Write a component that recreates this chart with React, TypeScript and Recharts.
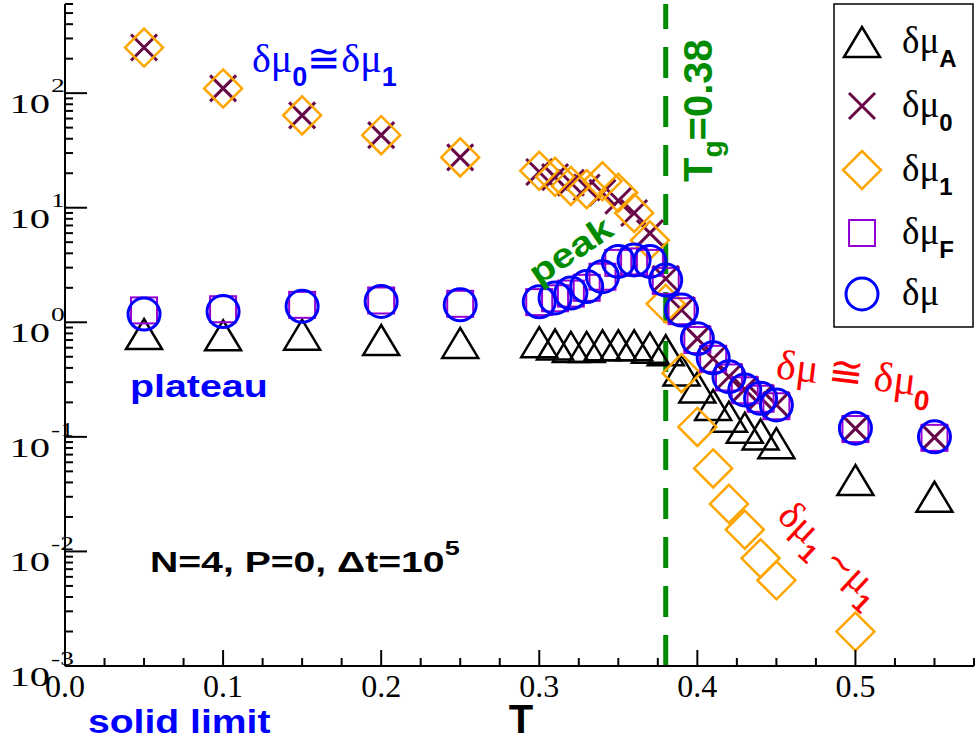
import React from 'react';
import { ScatterChart, Scatter, XAxis, YAxis, ReferenceLine } from 'recharts';

// temperatures shared by all sets
const T = [0.05, 0.10, 0.15, 0.20, 0.25, 0.30, 0.31, 0.32, 0.33, 0.34, 0.35, 0.36, 0.37, 0.38, 0.39, 0.40, 0.41, 0.42, 0.43, 0.44, 0.45, 0.50, 0.55];

const dMuA = [0.79, 0.77, 0.78, 0.70, 0.66, 0.67, 0.64, 0.61, 0.61, 0.63, 0.63, 0.63, 0.60, 0.57, 0.38, 0.27, 0.19, 0.15, 0.12, 0.105, 0.088, 0.042, 0.030];
const dMu0 = [250, 110, 64, 43, 27.5, 20.5, 18.5, 16.5, 15, 13.5, 11.5, 9, 6, 2.4, 1.28, 0.72, 0.48, 0.335, 0.26, 0.22, 0.19, 0.118, 0.099];
const dMu1 = [250, 110, 64, 43, 27.5, 21, 18.6, 15.5, 14.5, 17, 13.5, 9, 5.2, 1.45, 0.36, 0.122, 0.053, 0.026, 0.0155, 0.0087, 0.0056, 0.002, null];
const dMuF = [1.27, 1.30, 1.42, 1.55, 1.45, 1.5, 1.62, 1.78, 2.0, 2.5, 3.3, 3.4, 3.3, 2.3, 1.25, 0.70, 0.48, 0.33, 0.255, 0.215, 0.185, 0.117, 0.098];
const dMu = [1.18, 1.24, 1.38, 1.52, 1.42, 1.51, 1.63, 1.8, 2.05, 2.5, 3.4, 3.5, 3.4, 2.34, 1.28, 0.72, 0.49, 0.335, 0.257, 0.217, 0.19, 0.119, 0.10];

const T_G = 0.38;

const X_TICKS = Array.from({ length: 24 }, (_, k) => k / 40);
const Y_TICKS: number[] = [];
for (let e = -3; e <= 2; e++) {
  for (let m = 1; m <= 9; m++) {
    const v = m * Math.pow(10, e);
    if (v <= 600) Y_TICKS.push(v);
  }
}

const toPoints = (vals: (number | null)[]) =>
  T.map((t, i) => ({ t, v: vals[i] })).filter((p) => p.v != null);

const BLACK = '#000000';
const MAROON = '#670748';
const ORANGE = '#ffa500';
const VIOLET = '#9400d3';
const BLUE = '#0000ff';
const GREEN = '#008b00';
const RED = '#ff0000';

const SERIF = "'Liberation Serif', 'DejaVu Serif', serif";
const SANS = "'Liberation Sans', Arial, sans-serif";

const Triangle = ({ cx, cy }: any) => (
  <polygon points={`${cx},${cy - 15} ${cx - 18},${cy + 15} ${cx + 18},${cy + 15}`} fill="none" stroke={BLACK} strokeWidth={2.5} />
);
const Cross = ({ cx, cy }: any) => (
  <path d={`M${cx - 13},${cy - 13}L${cx + 13},${cy + 13}M${cx - 13},${cy + 13}L${cx + 13},${cy - 13}`} stroke={MAROON} strokeWidth={3} />
);
const Diamond = ({ cx, cy }: any) => (
  <polygon points={`${cx},${cy - 19} ${cx + 19},${cy} ${cx},${cy + 19} ${cx - 19},${cy}`} fill="none" stroke={ORANGE} strokeWidth={2.5} />
);
const Square = ({ cx, cy }: any) => (
  <rect x={cx - 13} y={cy - 13} width={26} height={26} fill="none" stroke={VIOLET} strokeWidth={2} />
);
const Circle = ({ cx, cy }: any) => (
  <circle cx={cx} cy={cy} r={16} fill="none" stroke={BLUE} strokeWidth={3} />
);

const XTick = ({ x, y, payload }: any) => {
  const v = payload.value;
  const major = Math.abs(v * 10 - Math.round(v * 10)) < 1e-6;
  return (
    <g>
      <line x1={x} y1={y} x2={x} y2={y - (major ? 16 : 8)} stroke={BLACK} strokeWidth={2} />
      {major && (
        <text x={x} y={y + 31} textAnchor="middle" fontFamily={SERIF} fontSize={32} fill={BLACK}>
          {v.toFixed(1)}
        </text>
      )}
    </g>
  );
};

const YTick = ({ x, y, payload }: any) => {
  const v = payload.value;
  const e = Math.log10(v);
  const major = Math.abs(e - Math.round(e)) < 1e-6;
  return (
    <g>
      <line x1={x} y1={y} x2={x + (major ? 22 : 8)} y2={y} stroke={BLACK} strokeWidth={2} />
      {major && (
        <g>
          <g transform={`translate(${x - 15},${y + 20}) scale(1.45,1)`}>
            <text textAnchor="end" fontFamily={SERIF} fontSize={28} fill={BLACK}>10</text>
          </g>
          <g transform={`translate(${x - 14},${y - 1}) scale(1.45,1)`}>
            <text textAnchor="start" fontFamily={SERIF} fontSize={19} fill={BLACK}>{Math.round(e)}</text>
          </g>
        </g>
      )}
    </g>
  );
};

const legendRows = [
  { sub: 'A', Mark: Triangle, y: 42 },
  { sub: '0', Mark: Cross, y: 106 },
  { sub: '1', Mark: Diamond, y: 170 },
  { sub: 'F', Mark: Square, y: 233 },
  { sub: '', Mark: Circle, y: 294 },
];

const Annotations = () => (
  <svg width={978} height={743} style={{ position: 'absolute', left: 0, top: 0, pointerEvents: 'none' }}>
    {/* legend */}
    <rect x={834} y={4} width={139} height={323} fill="#fff" stroke={BLACK} strokeWidth={1.5} />
    {legendRows.map(({ sub, Mark, y }) => (
      <g key={sub || 'mu'}>
        <Mark cx={862} cy={y} />
        <text x={902} y={y + 11} fontFamily={SERIF} fontSize={37} fill={BLACK}>
          δμ
          {sub && (
            <tspan dy={14} fontFamily={SANS} fontWeight="bold" fontSize={24}>{sub}</tspan>
          )}
        </text>
      </g>
    ))}

    {/* blue labels */}
    <text x={252} y={72} fontFamily={SERIF} fontSize={40} fill={BLUE}>
      <tspan>δμ</tspan>
      <tspan dy={14} fontFamily={SANS} fontWeight="bold" fontSize={27}>0</tspan>
      <tspan dy={-14}>≅δμ</tspan>
      <tspan dy={14} fontFamily={SANS} fontWeight="bold" fontSize={27}>1</tspan>
    </text>
    <g transform="translate(130,397) scale(1.23,1)">
      <text fontFamily={SANS} fontWeight="bold" fontSize={32} fill={BLUE}>plateau</text>
    </g>
    <g transform="translate(88,733) scale(1.15,1)">
      <text fontFamily={SANS} fontWeight="bold" fontSize={34} fill={BLUE}>solid limit</text>
    </g>

    {/* parameters */}
    <g transform="translate(150,572) scale(1.35,1)">
      <text fontFamily={SANS} fontWeight="bold" fontSize={29} fill={BLACK}>
        N=4, P=0, Δt=10<tspan dy={-17} fontSize={20}>5</tspan>
      </text>
    </g>

    {/* axis title */}
    <text x={521} y={733} textAnchor="middle" fontFamily={SANS} fontWeight="bold" fontSize={40} fill={BLACK}>T</text>

    {/* green labels */}
    <g transform="translate(577,260) rotate(-34) scale(1.2,1)">
      <text textAnchor="middle" fontFamily={SANS} fontWeight="bold" fontSize={34} fill={GREEN}>peak</text>
    </g>
    <g transform="translate(712,182) rotate(-90)">
      <text fontFamily={SANS} fontWeight="bold" fontSize={40} fill={GREEN}>
        T<tspan dy={10} fontSize={28}>g</tspan><tspan dy={-10}>=0.38</tspan>
      </text>
    </g>

    {/* red labels */}
    <g transform="translate(775,378) rotate(7)">
      <text fontFamily={SERIF} fontSize={42} fill={RED}>
        <tspan>δμ ≅ δμ</tspan>
        <tspan dy={14} fontFamily={SANS} fontWeight="bold" fontSize={28}>0</tspan>
      </text>
    </g>
    <g transform="translate(776,518) rotate(43)">
      <text fontFamily={SERIF} fontSize={40} fill={RED}>
        <tspan>δμ</tspan>
        <tspan dy={13} fontFamily={SANS} fontWeight="bold" fontSize={26}>1</tspan>
        <tspan dy={-13} fontFamily={SANS} fontSize={34}> ∼</tspan>
        <tspan>μ</tspan>
        <tspan dy={13} fontFamily={SANS} fontWeight="bold" fontSize={26}>1</tspan>
      </text>
    </g>
  </svg>
);

export default function App() {
  return (
    <div style={{ position: 'absolute', left: 0, top: 0, width: 978, height: 743, background: '#fff' }}>
      <ScatterChart width={978} height={743} margin={{ top: 4, right: 4, bottom: 0, left: 0 }}>
        <XAxis
          type="number"
          dataKey="t"
          domain={[0, 0.575]}
          ticks={X_TICKS}
          interval={0}
          tick={<XTick />}
          tickLine={false}
          tickSize={0}
          tickMargin={0}
          height={77}
          axisLine={{ stroke: BLACK, strokeWidth: 2 }}
          allowDataOverflow
        />
        <YAxis
          type="number"
          dataKey="v"
          scale="log"
          domain={[0.001, 600]}
          ticks={Y_TICKS}
          interval={0}
          tick={<YTick />}
          tickLine={false}
          tickSize={0}
          tickMargin={0}
          width={65}
          axisLine={{ stroke: BLACK, strokeWidth: 2 }}
          allowDataOverflow
        />
        <ReferenceLine x={T_G} stroke={GREEN} strokeWidth={5} strokeDasharray="31 18" />
        <Scatter data={toPoints(dMuA)} shape={(p: any) => <Triangle {...p} />} isAnimationActive={false} />
        <Scatter data={toPoints(dMu0)} shape={(p: any) => <Cross {...p} />} isAnimationActive={false} />
        <Scatter data={toPoints(dMu1)} shape={(p: any) => <Diamond {...p} />} isAnimationActive={false} />
        <Scatter data={toPoints(dMuF)} shape={(p: any) => <Square {...p} />} isAnimationActive={false} />
        <Scatter data={toPoints(dMu)} shape={(p: any) => <Circle {...p} />} isAnimationActive={false} />
      </ScatterChart>
      <Annotations />
    </div>
  );
}
